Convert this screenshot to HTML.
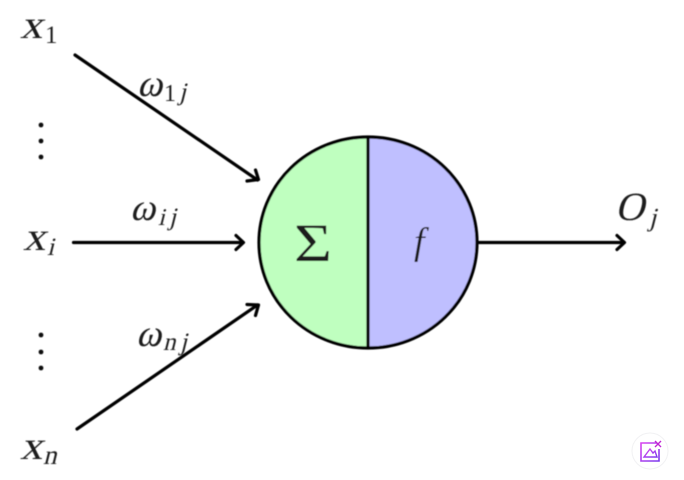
<!DOCTYPE html>
<html>
<head>
<meta charset="utf-8">
<style>
html,body{margin:0;padding:0;background:#fff;width:684px;height:480px;overflow:hidden}
svg{display:block}
text{font-family:"Liberation Serif",serif;fill:#1a1a1a}
</style>
</head>
<body>
<svg width="684" height="480" viewBox="0 0 684 480" xmlns="http://www.w3.org/2000/svg">
<defs>
<filter id="soft" x="-5%" y="-5%" width="110%" height="110%"><feGaussianBlur stdDeviation="0.55"/></filter>
<linearGradient id="badge" x1="0" y1="0" x2="1" y2="1"><stop offset="0" stop-color="#d946ef"/><stop offset="1" stop-color="#7c3aed"/></linearGradient>
</defs>
<g filter="url(#soft)">
<g>
<path d="M368 137 A109 105.5 0 0 0 368 348 Z" fill="#bfffbf"/>
<path d="M368 137 A109 105.5 0 0 1 368 348 Z" fill="#bfbfff"/>
<ellipse cx="368" cy="242.5" rx="109" ry="105.5" fill="none" stroke="#000" stroke-width="3.2"/>
<line x1="368" y1="137" x2="368" y2="348" stroke="#000" stroke-width="3.2"/>
</g>
<g fill="none" stroke="#000" stroke-width="3.2" stroke-linecap="round" stroke-linejoin="round">
<g><path d="M75 55 L257.500 180"/><path d="M255.500 170 L258.500 179.500 L247 181"/></g>
<g><path d="M73.500 242.500 L242 242.500"/><path d="M236 235.500 L243.500 242.500 L236 249.500"/></g>
<g><path d="M77 429 L257.500 305"/><path d="M247 304.500 L258.500 305 L255.500 315.500"/></g>
<g><path d="M478 242.500 L623 242.500"/><path d="M617 235.500 L624.500 242.500 L617 249.500"/></g>
</g>
<g><text transform="translate(20 38) skewX(-14) scale(1.12 1)" font-size="40">x</text><text x="45" y="43" font-size="25">1</text></g>
<g><text transform="translate(23 250) skewX(-14) scale(1.12 1)" font-size="40">x</text><text transform="translate(47 255) skewX(-14)" font-size="25">i</text></g>
<g><text transform="translate(20 459) skewX(-14) scale(1.12 1)" font-size="40">x</text><text transform="translate(43 464) skewX(-14)" font-size="27">n</text></g>
<g><text transform="translate(137 96) skewX(-14)" font-size="38">ω</text><text x="164" y="101" font-size="24">1</text><text transform="translate(179 100) skewX(-14)" font-size="25">j</text></g>
<g><text transform="translate(130 220) skewX(-14)" font-size="38">ω</text><text transform="translate(158 225) skewX(-14)" font-size="24">i</text><text transform="translate(169 225) skewX(-14)" font-size="25">j</text></g>
<g><text transform="translate(136 346) skewX(-14)" font-size="38">ω</text><text transform="translate(163 350) skewX(-14)" font-size="25">n</text><text transform="translate(180 350) skewX(-14)" font-size="25">j</text></g>
<g fill="#111"><circle cx="41" cy="125" r="2.4"/><circle cx="41" cy="141" r="2.4"/><circle cx="41" cy="157" r="2.4"/></g>
<g fill="#111"><circle cx="41" cy="335" r="2.4"/><circle cx="41" cy="352" r="2.4"/><circle cx="41" cy="368" r="2.4"/></g>
<text x="294" y="261" font-size="54" textLength="38" lengthAdjust="spacingAndGlyphs">Σ</text>
<text font-style="italic" x="414" y="254" font-size="38">f</text>
<g><text transform="translate(615 220) skewX(-14)" font-size="40">O</text><text transform="translate(649 226) skewX(-14)" font-size="26">j</text></g>
</g>
<g>
<circle cx="650" cy="451" r="18" fill="#fff" stroke="#f1f1f3" stroke-width="1"/>
<path d="M657 443 H641 V461 H659 V449" fill="none" stroke="url(#badge)" stroke-width="1.6"/>
<path d="M644 457 L650 449 L653 453 L655 451 L657 457 Z" fill="none" stroke="url(#badge)" stroke-width="1.4"/>
<path d="M655 441 L661 447 M661 441 L655 447" stroke="#c026d3" stroke-width="1.4"/>
</g>
</svg>
</body>
</html>
